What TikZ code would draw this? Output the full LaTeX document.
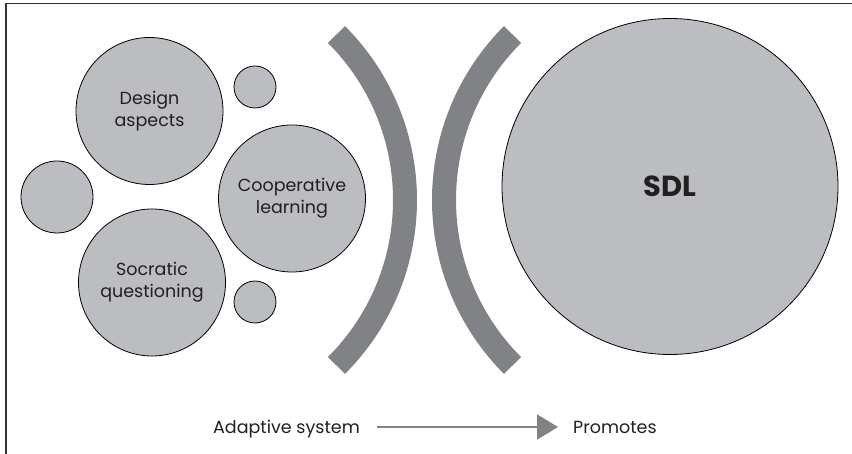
\documentclass[tikz,border=0pt]{standalone}
\usepackage{fontspec}
\setmainfont{Poppins}
\usetikzlibrary{arrows.meta}
\definecolor{circfill}{HTML}{BCBDC0}
\definecolor{arcgray}{HTML}{808285}
\definecolor{txt}{HTML}{231F20}
\tikzset{
  bubble/.style={circle, draw=black, line width=0.8pt, fill=circfill, inner sep=0pt, text=txt, align=center, font=\fontsize{17.5}{22}\selectfont},
  bracket/.style={draw=arcgray, line width=24pt, line cap=butt},
  frameline/.style={draw=black!80, line width=1.4pt},
  label/.style={text=txt, font=\fontsize{17.5}{22}\selectfont, inner sep=0pt}
}
\begin{document}
\begin{tikzpicture}[x=1pt,y=-1pt]
\useasboundingbox (0,0) rectangle (852,454);
% frame
\coordinate (fA) at (852,3.5);
\coordinate (fB) at (6,3.5);
\coordinate (fC) at (6,454);
\draw[frameline] (fA) -- (fB) -- (fC);
% circles
\node[bubble, minimum size=147pt] (design) at (149.5,111) {Design\\aspects};
\node[bubble, minimum size=42pt] (s1) at (255,87) {};
\node[bubble, minimum size=72pt] (s2) at (57,197) {};
\node[bubble, minimum size=147pt] (coop) at (292,198.5) {Cooperative\\learning};
\node[bubble, minimum size=147pt] (socr) at (152,282.5) {Socratic\\questioning};
\node[bubble, minimum size=42pt] (s3) at (255,302) {};
\node[bubble, minimum size=336pt, font=\fontsize{29}{34}\selectfont\bfseries] (sdl) at (670,186.5) {SDL};
% brackets
\draw[bracket] (171,200) ++(-45:234) arc[start angle=-45, end angle=45, radius=234];
\draw[bracket] (678,200) ++(225:234) arc[start angle=225, end angle=135, radius=234];
% bottom legend
\node[label, anchor=base east] (adapt) at (360,433) {Adaptive system};
\node[label, anchor=base west] (prom) at (573,433) {Promotes};
\coordinate (aS) at (377,427);
\coordinate (aE) at (558,427);
\draw[arcgray, line width=2pt, -{Triangle[length=21pt,width=25pt]}] (aS) -- (aE);
\end{tikzpicture}
\end{document}
